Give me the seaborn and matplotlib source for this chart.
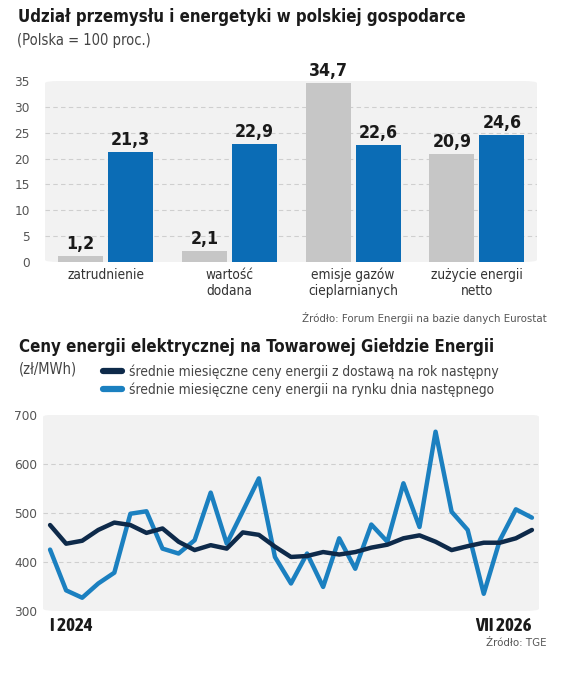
import matplotlib
matplotlib.use("Agg")
import matplotlib.pyplot as plt
from matplotlib.patches import FancyBboxPatch
from matplotlib.lines import Line2D
import seaborn as sns
import pandas as pd

# ---- data: bar chart ----
categories = ["zatrudnienie", "wartość\ndodana", "emisje gazów\ncieplarnianych", "zużycie energii\nnetto"]
grey_values = [1.2, 2.1, 34.7, 20.9]
blue_values = [21.3, 22.9, 22.6, 24.6]
bar_yticks = [0, 5, 10, 15, 20, 25, 30, 35]

# ---- data: line chart (monthly, I 2024 .. VII 2026) ----
months = pd.period_range("2024-01", "2026-07", freq="M").astype(str).tolist()
forward_prices = [475, 437, 443, 465, 480, 475, 459, 468, 441, 424,
                  434, 427, 460, 455, 431, 410, 412, 420, 415, 420,
                  429, 435, 448, 454, 441, 424, 432, 439, 439, 448, 465]
dayahead_prices = [425, 342, 327, 356, 378, 498, 503, 427, 417, 444,
                   541, 437, 503, 570, 410, 356, 417, 349, 448, 386,
                   476, 441, 560, 471, 665, 502, 465, 335, 444, 507, 490]
line_yticks = [300, 400, 500, 600, 700]
x_labels = ["I 2024", "VII 2026"]
series_names = ["średnie miesięczne ceny energii z dostawą na rok następny",
                "średnie miesięczne ceny energii na rynku dnia następnego"]

GREY = "#c6c6c6"
BLUE = "#0b6cb5"
NAVY = "#0e2a4a"
LBLUE = "#1b80c0"
BG = "#f2f2f2"
TXT = "#333333"

sns.set_theme(style="white")
plt.rcParams["font.family"] = ["DejaVu Sans"]
plt.rcParams["font.stretch"] = "condensed"

W, H = 564, 687
fig = plt.figure(figsize=(W / 100, H / 100), dpi=100)
fig.patch.set_facecolor("white")

def fx(px):
    return px / W

def fy(py):
    return 1 - py / H

def add_bg(ax):
    ax.patch.set_visible(False)
    p = FancyBboxPatch((0, 0), 1, 1, boxstyle="round,pad=0,rounding_size=0.03",
                       transform=ax.transAxes, facecolor=BG, edgecolor="none", zorder=0,
                       mutation_aspect=0.4)
    ax.add_patch(p)

# ---------------- top: bar chart ----------------
ax1 = fig.add_axes([fx(45), fy(262), fx(537) - fx(45), fy(81) - fy(262)])
add_bg(ax1)
df_bar = pd.DataFrame({
    "kategoria": categories * 2,
    "seria": ["a"] * 4 + ["b"] * 4,
    "wartosc": grey_values + blue_values,
})
sns.barplot(data=df_bar, x="kategoria", y="wartosc", hue="seria",
            palette=[GREY, BLUE], width=0.808, gap=0.1, legend=False,
            ax=ax1, zorder=3, saturation=1, linewidth=0)
ax1.set_ylim(0, 35)
ax1.set_xlim(-0.489, 3.485)
ax1.set_yticks(bar_yticks)
ax1.set_yticklabels([str(t) for t in bar_yticks])
for t in bar_yticks[1:-1]:
    ax1.axhline(t, color="#cfcfcf", lw=0.8, ls=(0, (4, 3)), zorder=1)
for c in ax1.containers:
    ax1.bar_label(c, labels=[f"{v:.1f}".replace(".", ",") for v in c.datavalues],
                  padding=2, fontsize=12.7, fontweight="bold", color="#1a1a1a")
ax1.set_xlabel("")
ax1.set_ylabel("")
for s in ax1.spines.values():
    s.set_visible(False)
ax1.tick_params(axis="y", length=0, labelsize=9.7, labelcolor="#555555", pad=11)
ax1.tick_params(axis="x", length=0, labelsize=9.8, labelcolor=TXT, pad=4)

fig.text(fx(18), fy(17), "Udział przemysłu i energetyki w polskiej gospodarce",
         fontsize=12.1, fontweight="bold", color="#1a1a1a", va="center")
fig.text(fx(17), fy(40), "(Polska = 100 proc.)", fontsize=10.5, color="#444444", va="center")
fig.text(fx(547), fy(318), "Źródło: Forum Energii na bazie danych Eurostat",
         fontsize=8.2, color="#555555", va="center", ha="right")

# ---------------- bottom: line chart ----------------
ax2 = fig.add_axes([fx(43), fy(611), fx(539) - fx(43), fy(414.5) - fy(611)])
add_bg(ax2)
df_line = pd.DataFrame({
    "miesiac": list(range(len(months))) * 2,
    "seria": [series_names[0]] * len(months) + [series_names[1]] * len(months),
    "cena": forward_prices + dayahead_prices,
})
sns.lineplot(data=df_line, x="miesiac", y="cena", hue="seria",
             hue_order=[series_names[1], series_names[0]],
             palette={series_names[0]: NAVY, series_names[1]: LBLUE},
             linewidth=3.2, ax=ax2, legend=False, zorder=3)
ax2.set_xlim(-0.44, len(months) - 1 + 0.44)
ax2.set_ylim(300, 700)
ax2.set_yticks(line_yticks)
ax2.set_yticklabels([str(t) for t in line_yticks])
for t in [400, 500, 600]:
    ax2.axhline(t, color="#cfcfcf", lw=0.8, ls=(0, (4, 3)), zorder=1)
ax2.set_xticks([0, len(months) - 1])
ax2.set_xticklabels(x_labels)
ax2.set_xlabel("")
ax2.set_ylabel("")
for s in ax2.spines.values():
    s.set_visible(False)
ax2.tick_params(axis="y", length=0, labelsize=9.7, labelcolor="#555555", pad=4)
ax2.tick_params(axis="x", length=0, labelcolor="#1a1a1a", pad=4)
for lab in ax2.get_xticklabels():
    lab.set_fontfamily(["Asap Condensed", "DejaVu Sans"])
    lab.set_fontweight("bold")
    lab.set_fontsize(13.5)
ax2.get_xticklabels()[0].set_ha("left")
ax2.get_xticklabels()[1].set_ha("right")

fig.text(fx(19), fy(347), "Ceny energii elektrycznej na Towarowej Giełdzie Energii",
         fontsize=12.1, fontweight="bold", color="#1a1a1a", va="center")
fig.text(fx(19), fy(369), "(zł/MWh)", fontsize=10.5, color="#444444", va="center")

handles = [Line2D([0], [0], color=NAVY, lw=4.5, solid_capstyle="round"),
           Line2D([0], [0], color=LBLUE, lw=4.5, solid_capstyle="round")]
leg = fig.legend(handles, series_names, loc="upper left",
                 bbox_to_anchor=(fx(103), fy(364)), frameon=False,
                 fontsize=9.9, handlelength=1.4, handletextpad=0.5,
                 labelspacing=0.3, borderaxespad=0, borderpad=0)
for t in leg.get_texts():
    t.set_color("#444444")

fig.text(fx(547), fy(643), "Źródło: TGE", fontsize=8.2, color="#555555",
         va="center", ha="right")

fig.savefig("out.png", dpi=100, facecolor="white")
